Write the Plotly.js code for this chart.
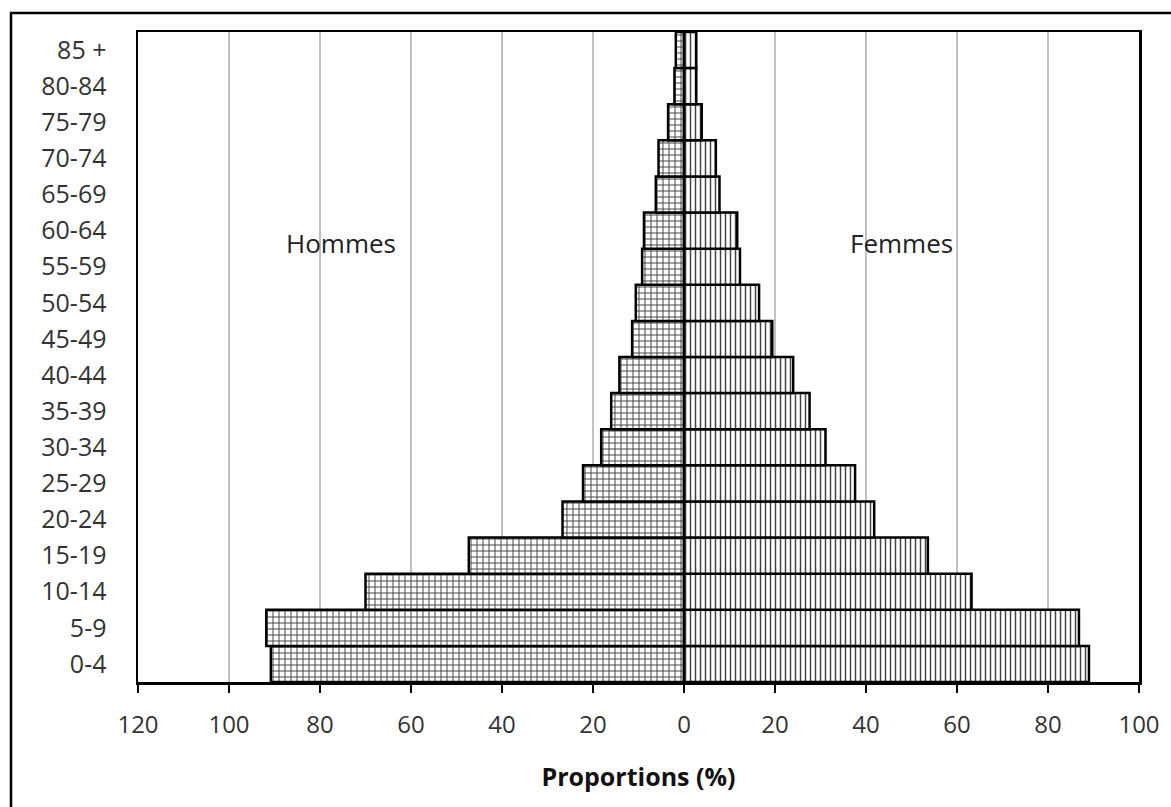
<!DOCTYPE html>
<html>
<head>
<meta charset="utf-8">
<script src="https://cdn.plot.ly/plotly-3.0.1.min.js"></script>
<style>
  html, body { margin: 0; padding: 0; background: #fff; }
  #chart { width: 1171px; height: 807px; }
</style>
</head>
<body>
<div id="chart"></div>
<script>
// Age groups (bottom to top)
const ageGroups = ['0-4','5-9','10-14','15-19','20-24','25-29','30-34','35-39','40-44','45-49','50-54','55-59','60-64','65-69','70-74','75-79','80-84','85 +'];
// Proportions (%)
const hommes = [90.8, 91.8, 70.0, 47.3, 26.7, 22.2, 18.2, 16.0, 14.2, 11.4, 10.6, 9.2, 8.8, 6.2, 5.6, 3.5, 2.1, 1.8];
const femmes = [89.0, 86.8, 63.2, 53.6, 41.8, 37.6, 31.1, 27.6, 24.0, 19.4, 16.5, 12.3, 11.7, 7.8, 7.0, 3.9, 2.7, 2.7];
// X-axis ticks
const xTickVals = [-120, -100, -80, -60, -40, -20, 0, 20, 40, 60, 80, 100];
const xTickText = ['120', '100', '80', '60', '40', '20', '0', '20', '40', '60', '80', '100'];

const FONT = 'Open Sans, sans-serif';

const traceH = {
  type: 'bar', orientation: 'h', name: 'Hommes',
  y: ageGroups, x: hommes.map(v => -v),
  marker: {
    color: '#ffffff',
    line: { color: '#000000', width: 2.5 },
    pattern: { shape: '+', fgcolor: '#444444', bgcolor: '#ffffff', size: 6, solidity: 0.3 }
  },
  hoverinfo: 'skip'
};
const traceF = {
  type: 'bar', orientation: 'h', name: 'Femmes',
  y: ageGroups, x: femmes,
  marker: {
    color: '#ffffff',
    line: { color: '#000000', width: 2.5 },
    pattern: { shape: '|', fgcolor: '#444444', bgcolor: '#ffffff', size: 5, solidity: 0.3 }
  },
  hoverinfo: 'skip'
};

const layout = {
  width: 1171, height: 807,
  margin: { l: 138, r: 32, t: 32, b: 125 },
  paper_bgcolor: '#ffffff', plot_bgcolor: '#ffffff',
  barmode: 'relative', bargap: 0,
  showlegend: false,
  font: { family: FONT, color: '#333333', size: 20 },
  xaxis: {
    range: [-120, 100],
    tickmode: 'array', tickvals: xTickVals, ticktext: xTickText,
    showgrid: true, gridcolor: '#c0c0c0', gridwidth: 1.5,
    zeroline: false,
    showline: true, linecolor: '#000000', linewidth: 2.5, mirror: true,
    ticks: 'outside', ticklen: 8, tickwidth: 2, tickcolor: '#000000',
    ticklabelstandoff: 12,
    tickfont: { family: FONT, size: 24, color: '#333333' },
    title: { text: '<b>Proportions (%)</b>', font: { family: FONT, size: 25, color: '#111111' }, standoff: 29 },
    fixedrange: true
  },
  yaxis: {
    type: 'category',
    showgrid: false, zeroline: false,
    showline: true, linecolor: '#000000', linewidth: 2.5, mirror: true,
    ticks: '',
    ticklabelstandoff: 24,
    tickfont: { family: FONT, size: 25, color: '#333333' },
    fixedrange: true
  },
  annotations: [
    { text: 'Hommes', xref: 'x', yref: 'y', x: -75.4, y: '60-64', yshift: -12, showarrow: false,
      font: { family: FONT, size: 26, color: '#222222' } },
    { text: 'Femmes', xref: 'x', yref: 'y', x: 47.7, y: '60-64', yshift: -12, showarrow: false,
      font: { family: FONT, size: 26, color: '#222222' } }
  ],
  shapes: [
    { type: 'rect', xref: 'paper', yref: 'paper',
      x0: (11 - 138) / 1001, x1: (1180 - 138) / 1001,
      y0: (682 - 820) / 650, y1: (682 - 13) / 650,
      line: { color: '#000000', width: 2.5 }, fillcolor: 'rgba(0,0,0,0)', layer: 'above' }
  ]
};

Plotly.newPlot('chart', [traceH, traceF], layout, { displayModeBar: false, staticPlot: true });
</script>
</body>
</html>
